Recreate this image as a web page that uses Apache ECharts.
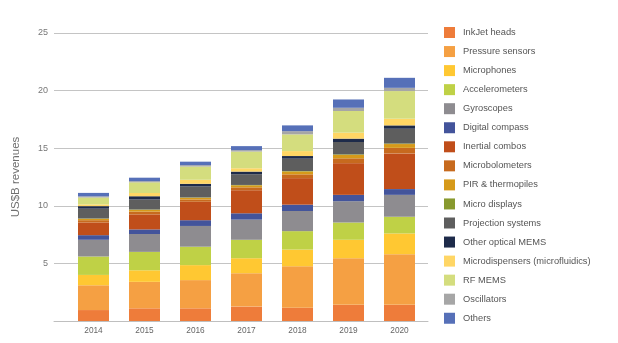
<!DOCTYPE html>
<html>
<head>
<meta charset="utf-8">
<script src="https://cdn.jsdelivr.net/npm/echarts@6/dist/echarts.min.js"></script>
<style>
  html, body { margin: 0; padding: 0; background: #ffffff; }
  #chart { width: 618px; height: 343px; }
</style>
</head>
<body>
<div id="chart"></div>
<script>
// MEMS market revenues by device type, US$ billions
const years = ['2014', '2015', '2016', '2017', '2018', '2019', '2020'];

const inkjetHeads      = [0.95, 1.10, 1.10, 1.25, 1.15, 1.40, 1.40];
const pressureSensors  = [2.15, 2.30, 2.45, 2.90, 3.60, 4.05, 4.40];
const microphones      = [0.90, 1.00, 1.30, 1.30, 1.45, 1.60, 1.80];
const accelerometers   = [1.60, 1.60, 1.60, 1.60, 1.60, 1.50, 1.45];
const gyroscopes       = [1.45, 1.55, 1.80, 1.75, 1.75, 1.85, 1.90];
const digitalCompass   = [0.40, 0.40, 0.50, 0.55, 0.55, 0.55, 0.50];
const inertialCombos   = [1.10, 1.30, 1.60, 2.00, 2.30, 2.75, 3.10];
const microbolometers  = [0.20, 0.25, 0.20, 0.25, 0.33, 0.42, 0.48];
const pirThermopiles   = [0.12, 0.15, 0.15, 0.18, 0.25, 0.30, 0.33];
const microDisplays    = [0.03, 0.03, 0.03, 0.03, 0.04, 0.05, 0.05];
const projectionSys    = [0.85, 0.87, 0.95, 0.93, 1.07, 1.07, 1.28];
const otherOptical     = [0.22, 0.28, 0.23, 0.23, 0.23, 0.29, 0.29];
const microdispensers  = [0.15, 0.28, 0.35, 0.29, 0.43, 0.52, 0.58];
const rfMems           = [0.60, 0.93, 1.15, 1.45, 1.45, 1.88, 2.40];
const oscillators      = [0.10, 0.10, 0.12, 0.12, 0.28, 0.28, 0.28];
const others           = [0.30, 0.30, 0.30, 0.35, 0.50, 0.72, 0.87];

const yTicks = [0, 5, 10, 15, 20, 25];

const seriesDefs = [
  ['InkJet heads', inkjetHeads, '#EE7C3A'],
  ['Pressure sensors', pressureSensors, '#F5A043'],
  ['Microphones', microphones, '#FFC832'],
  ['Accelerometers', accelerometers, '#BFD146'],
  ['Gyroscopes', gyroscopes, '#8E8C90'],
  ['Digital compass', digitalCompass, '#43549B'],
  ['Inertial combos', inertialCombos, '#C04E1A'],
  ['Microbolometers', microbolometers, '#C76A1E'],
  ['PIR & thermopiles', pirThermopiles, '#D69A1A'],
  ['Micro displays', microDisplays, '#88992E'],
  ['Projection systems', projectionSys, '#5E5E5E'],
  ['Other optical MEMS', otherOptical, '#1E2B4A'],
  ['Microdispensers (microfluidics)', microdispensers, '#FFD665'],
  ['RF MEMS', rfMems, '#D4DD7E'],
  ['Oscillators', oscillators, '#A6A6A6'],
  ['Others', others, '#5670B8']
];

const chart = echarts.init(document.getElementById('chart'), null, { renderer: 'canvas' });

const font = 'Liberation Sans, Arial, sans-serif';

const option = {
  animation: false,
  backgroundColor: '#ffffff',
  legend: {
    orient: 'vertical',
    left: 439,
    top: 22,
    itemWidth: 11,
    itemHeight: 11,
    itemGap: 8.05,
    icon: 'rect',
    selectedMode: false,
    textStyle: { fontFamily: font, fontSize: 9.3, color: '#555555', padding: [0, 0, 0, 3] },
    data: seriesDefs.map(d => d[0])
  },
  grid: [
    // gridlines and value labels
    { left: 54, top: 33, width: 374, height: 288 },
    // bars
    { left: 68, top: 33, width: 357, height: 288 }
  ],
  xAxis: [
    {
      gridIndex: 0, type: 'category', data: years,
      axisLine: { show: true, lineStyle: { color: '#bfbfbf', width: 1 } },
      axisTick: { show: false }, axisLabel: { show: false }
    },
    {
      gridIndex: 1, type: 'category', data: years,
      axisLine: { show: false }, axisTick: { show: false },
      axisLabel: { fontFamily: font, fontSize: 8.3, color: '#666666', margin: 6 }
    }
  ],
  yAxis: [
    {
      gridIndex: 0, type: 'value', min: 0, max: 25, interval: 5,
      name: 'US$B revenues', nameLocation: 'middle', nameGap: 32,
      nameTextStyle: { fontFamily: font, fontSize: 11.5, color: '#707070' },
      axisLine: { show: false }, axisTick: { show: false },
      axisLabel: {
        fontFamily: font, fontSize: 9, color: '#777777', margin: 6,
        formatter: v => (yTicks.indexOf(v) > 0 ? String(v) : '')
      },
      splitLine: { lineStyle: { color: '#c4c4c4', width: 1 } }
    },
    {
      gridIndex: 1, type: 'value', min: 0, max: 25, interval: 5,
      axisLine: { show: false }, axisTick: { show: false },
      axisLabel: { show: false }, splitLine: { show: false }
    }
  ],
  series: seriesDefs.map(([name, values, color]) => ({
    name: name,
    type: 'bar',
    xAxisIndex: 1,
    yAxisIndex: 1,
    stack: 'total',
    barWidth: 31,
    data: values,
    itemStyle: { color: color },
    emphasis: { disabled: true }
  }))
};

chart.setOption(option);
</script>
</body>
</html>
